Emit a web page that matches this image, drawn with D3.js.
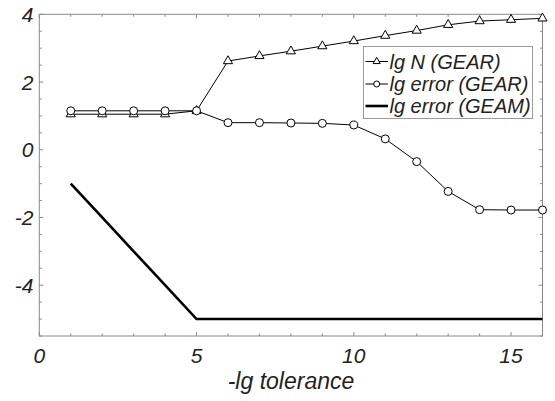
<!DOCTYPE html>
<html>
<head>
<meta charset="utf-8">
<script src="https://cdn.jsdelivr.net/npm/d3@7"></script>
<style>
  html, body { margin: 0; padding: 0; background: #fff; }
  svg { display: block; }
  text { font-family: "Liberation Sans", Arial, sans-serif; font-style: italic; fill: #222; }
</style>
</head>
<body>
<svg id="chart" width="555" height="401"></svg>
<script>
// -lg tolerance values
const tolerance = [1, 2, 3, 4, 5, 6, 7, 8, 9, 10, 11, 12, 13, 14, 15, 16];
// lg N (GEAR)
const lgNGear = [1.05, 1.05, 1.05, 1.05, 1.15, 2.62, 2.77, 2.91, 3.06, 3.21, 3.37, 3.52, 3.69, 3.80, 3.84, 3.88];
// lg error (GEAR)
const lgErrGear = [1.15, 1.15, 1.15, 1.15, 1.15, 0.80, 0.80, 0.79, 0.78, 0.73, 0.32, -0.35, -1.23, -1.77, -1.78, -1.78];
// lg error (GEAM)
const lgErrGeam = [-1, -2, -3, -4, -5, -5, -5, -5, -5, -5, -5, -5, -5, -5, -5, -5];

const xTickLabels = [0, 5, 10, 15];
const yTickLabels = [-4, -2, 0, 2, 4];
const legendLabels = ["lg N (GEAR)", "lg error (GEAR)", "lg error (GEAM)"];

const svg = d3.select("#chart");
const plotL = 39.3, plotR = 542.5, plotT = 14.3, plotB = 336;

const x = d3.scaleLinear().domain([0, 16]).range([plotL, plotR]);
const y = d3.scaleLinear().domain([-5.5, 4]).range([plotB, plotT]);

const axisColor = "#8a8a8a";

// frame
svg.append("rect")
  .attr("x", plotL).attr("y", plotT)
  .attr("width", plotR - plotL).attr("height", plotB - plotT)
  .attr("fill", "none").attr("stroke", axisColor).attr("stroke-width", 1);

// inward ticks on all four sides
const xTicks = d3.range(0, 16.01, 1);
const yTicks = d3.range(-5.5, 4.01, 0.5);
const gT = svg.append("g").attr("stroke", axisColor).attr("stroke-width", 1);
xTicks.forEach(v => {
  const L = (v % 5 === 0) ? 4 : 2.5;
  gT.append("line").attr("x1", x(v)).attr("x2", x(v)).attr("y1", plotB).attr("y2", plotB - L);
  gT.append("line").attr("x1", x(v)).attr("x2", x(v)).attr("y1", plotT).attr("y2", plotT + L);
});
yTicks.forEach(v => {
  const L = (Math.abs(v % 2) === 0) ? 4 : 2.5;
  gT.append("line").attr("y1", y(v)).attr("y2", y(v)).attr("x1", plotL).attr("x2", plotL + L);
  gT.append("line").attr("y1", y(v)).attr("y2", y(v)).attr("x1", plotR).attr("x2", plotR - L);
});

// tick labels
svg.append("g").selectAll("text").data(xTickLabels).join("text")
  .attr("x", d => x(d)).attr("y", 363)
  .attr("text-anchor", "middle")
  .attr("font-size", 21)
  .text(d => d);
svg.append("g").selectAll("text").data(yTickLabels).join("text")
  .attr("x", 33.5).attr("y", d => y(d) + 7.5)
  .attr("text-anchor", "end")
  .attr("font-size", 21)
  .text(d => d);

// axis title
svg.append("text")
  .attr("x", 291).attr("y", 389)
  .attr("text-anchor", "middle")
  .attr("font-size", 23)
  .text("-lg tolerance");

// series
const line = d3.line().x(d => x(d[0])).y(d => y(d[1]));
const ptsN = tolerance.map((t, i) => [t, lgNGear[i]]);
const ptsE = tolerance.map((t, i) => [t, lgErrGear[i]]);
const ptsM = tolerance.map((t, i) => [t, lgErrGeam[i]]);

svg.append("path").attr("d", line(ptsM))
  .attr("fill", "none").attr("stroke", "#000").attr("stroke-width", 2.6)
  .attr("stroke-linejoin", "miter");

svg.append("path").attr("d", line(ptsN))
  .attr("fill", "none").attr("stroke", "#000").attr("stroke-width", 1);
svg.append("path").attr("d", line(ptsE))
  .attr("fill", "none").attr("stroke", "#000").attr("stroke-width", 1);

const tri = d3.symbol().type(d3.symbolTriangle).size(36);
svg.append("g").selectAll("path").data(ptsN).join("path")
  .attr("d", tri)
  .attr("transform", d => `translate(${x(d[0])},${y(d[1])})`)
  .attr("fill", "#fff").attr("stroke", "#000").attr("stroke-width", 1);

svg.append("g").selectAll("circle").data(ptsE).join("circle")
  .attr("cx", d => x(d[0])).attr("cy", d => y(d[1])).attr("r", 4)
  .attr("fill", "#fff").attr("stroke", "#000").attr("stroke-width", 1);

// legend
const lg = svg.append("g");
lg.append("rect")
  .attr("x", 363.5).attr("y", 46.5).attr("width", 169).attr("height", 72)
  .attr("fill", "#fff").attr("stroke", "#9a9a9a").attr("stroke-width", 1);
const rowY = [61.5, 84, 106];
legendLabels.forEach((lab, i) => {
  const cy = rowY[i];
  lg.append("line").attr("x1", 365.5).attr("x2", 388).attr("y1", cy).attr("y2", cy)
    .attr("stroke", "#000").attr("stroke-width", i === 2 ? 2.6 : 1);
  if (i === 0) {
    lg.append("path").attr("d", d3.symbol().type(d3.symbolTriangle).size(22))
      .attr("transform", `translate(376.7,${cy})`)
      .attr("fill", "#fff").attr("stroke", "#000").attr("stroke-width", 1);
  } else if (i === 1) {
    lg.append("circle").attr("cx", 376.7).attr("cy", cy).attr("r", 3)
      .attr("fill", "#fff").attr("stroke", "#000").attr("stroke-width", 1);
  }
  lg.append("text").attr("x", 389.5).attr("y", cy + 7)
    .attr("font-size", 20).text(lab);
});
</script>
</body>
</html>
